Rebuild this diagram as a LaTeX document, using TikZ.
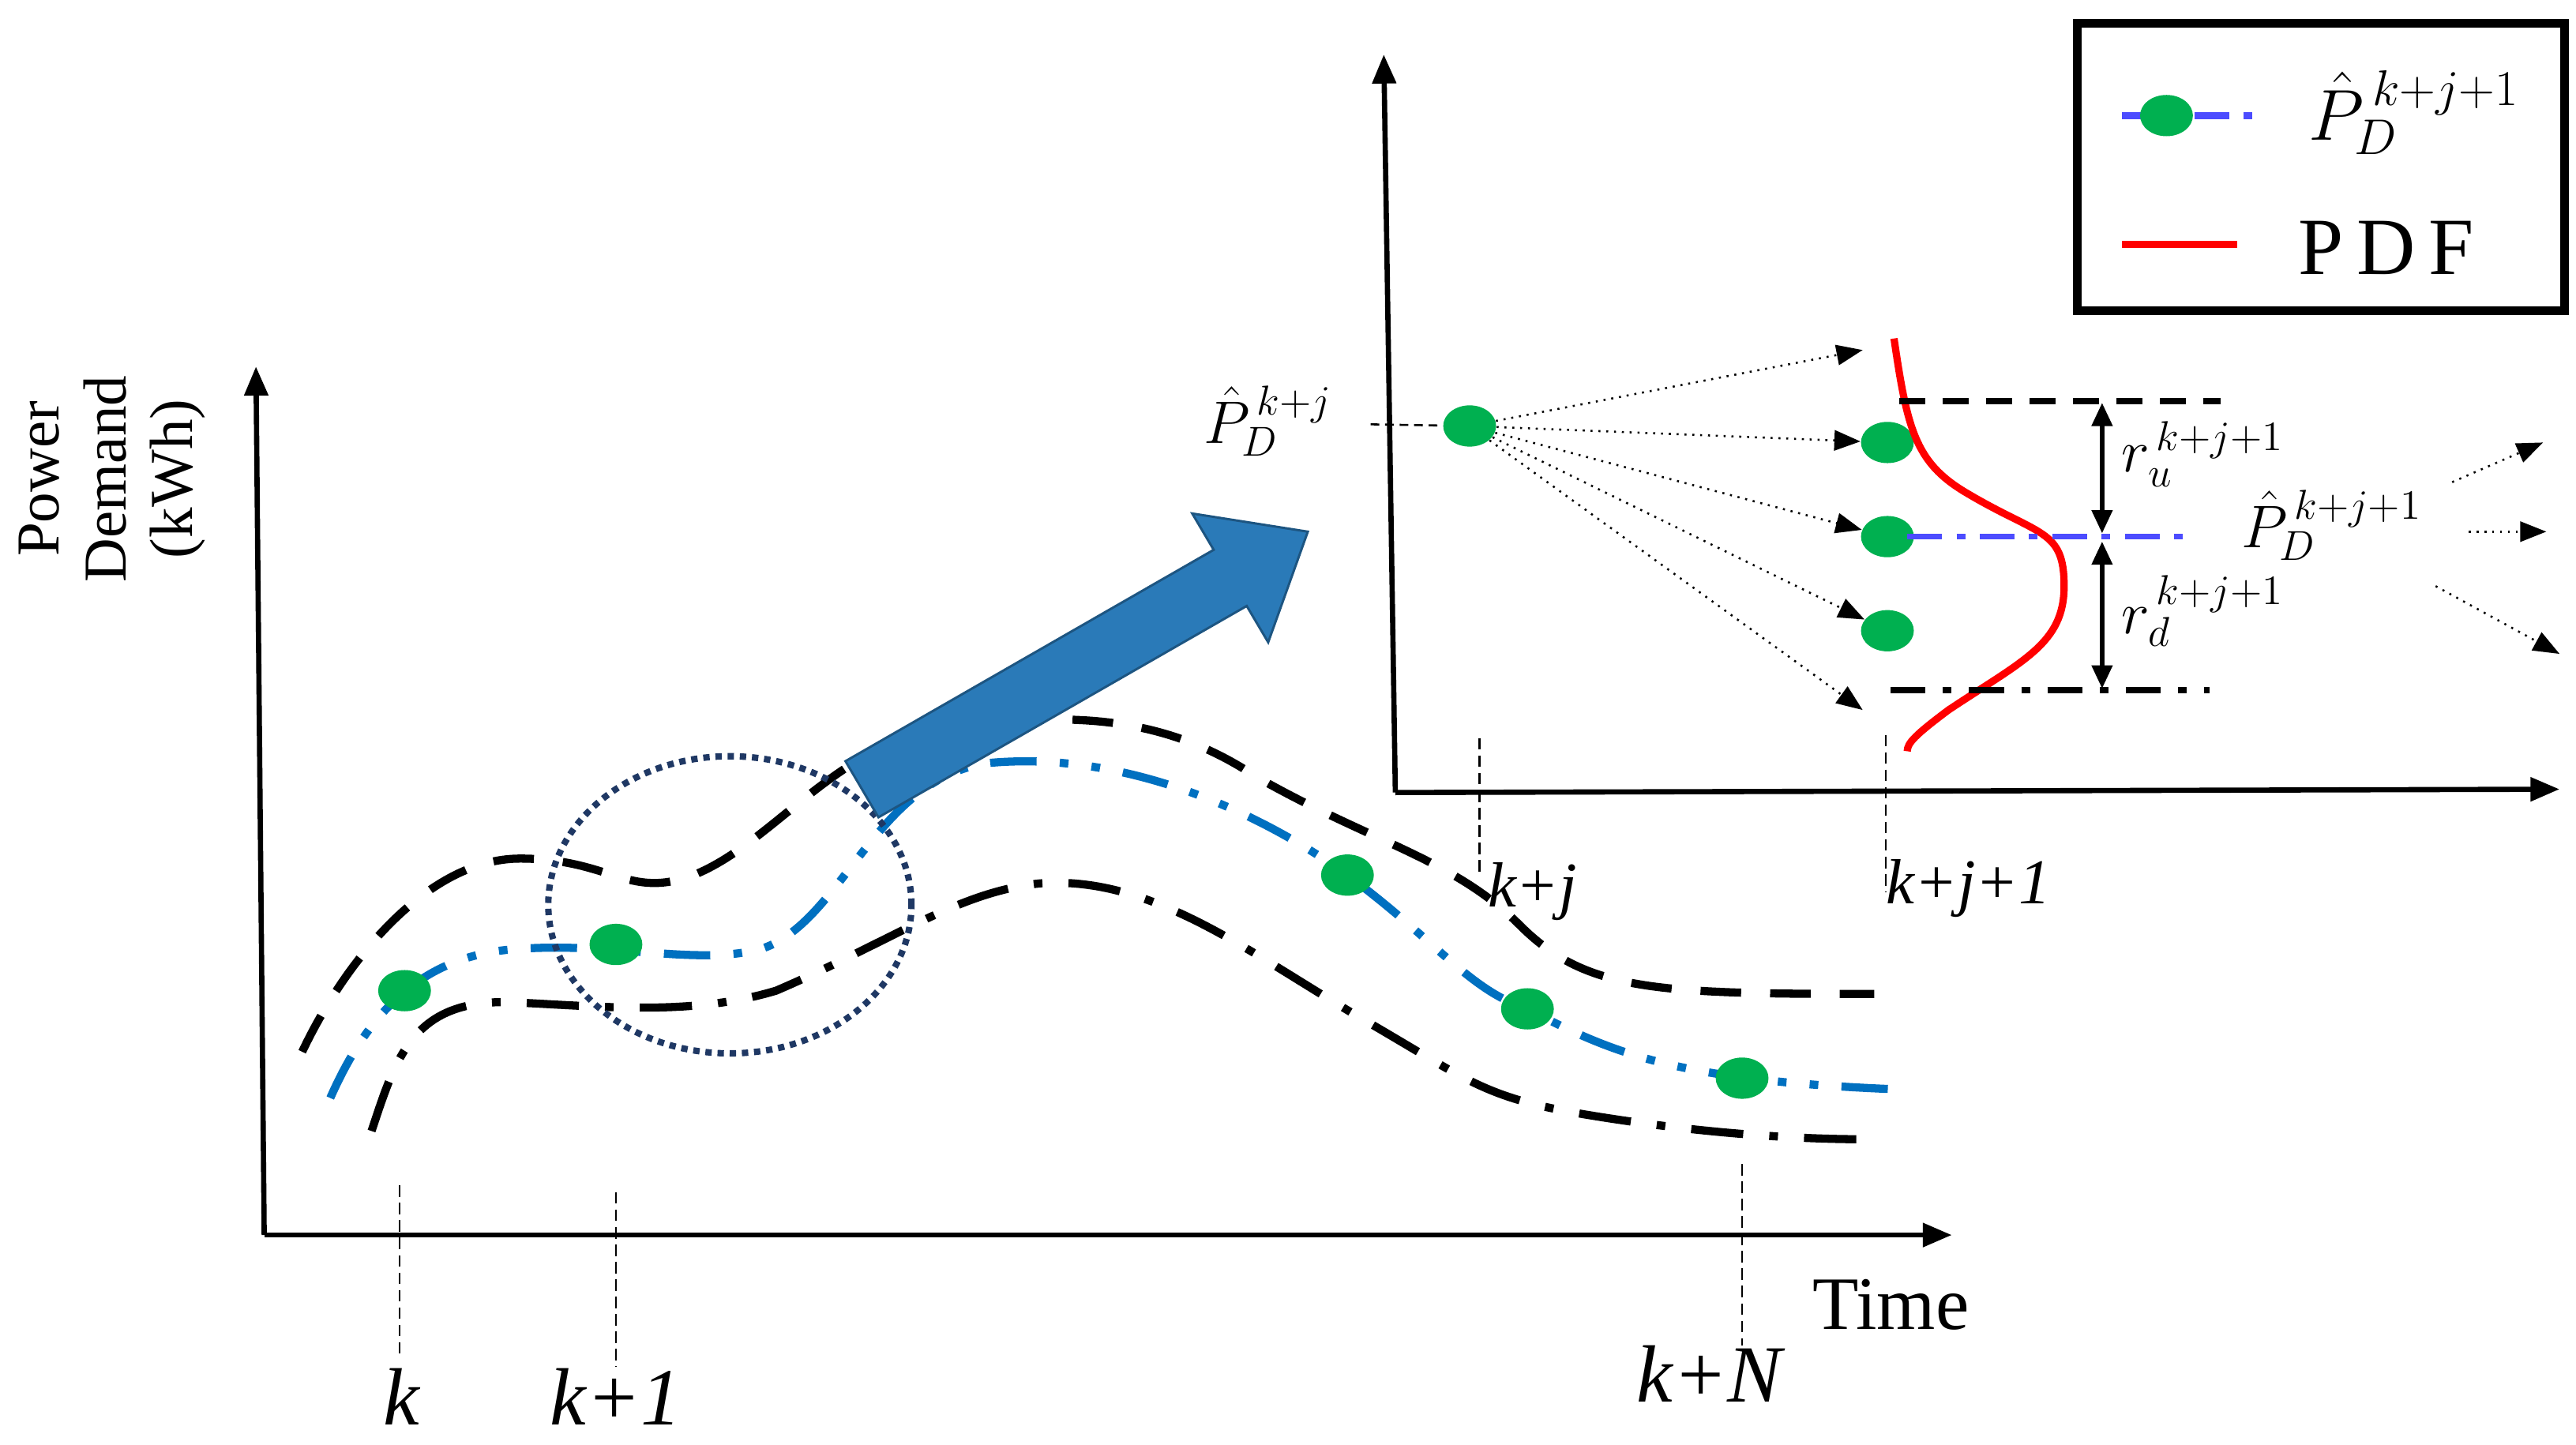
\documentclass[tikz,border=0pt]{standalone}
\usepackage{fontspec}
\setmainfont{Liberation Serif}
\usetikzlibrary{arrows.meta,shapes.geometric}
\definecolor{gdot}{HTML}{00B050}
\definecolor{bline}{HTML}{0070C0}
\definecolor{barrow}{HTML}{2A7AB8}
\definecolor{navy}{HTML}{1F3864}
\begin{document}
\begin{tikzpicture}[x=0.02cm,y=-0.02cm,
  axis/.style={line width=1.8pt,-{Triangle[length=10pt,width=8pt]}},
  ub/.style={line width=2.8pt,dash pattern=on 14pt off 10pt},
  mb/.style={line width=2.8pt,bline,dash pattern=on 16pt off 8pt on 3pt off 8pt on 3pt off 8pt},
  lb/.style={line width=2.8pt,dash pattern=on 18pt off 9pt on 3pt off 9pt},
  tick/.style={line width=0.6pt,dash pattern=on 4pt off 2pt},
  fan/.style={line width=0.7pt,dotted,-{Triangle[length=9pt,width=7pt]}},
  lab/.style={font=\fontsize{28}{30}\selectfont\itshape},
  slab/.style={font=\fontsize{22}{24}\selectfont\itshape}]
\useasboundingbox (0,0) rectangle (1560,875);
\tikzset{g/.style={ellipse,fill=gdot,minimum width=0.64cm,minimum height=0.5cm,inner sep=0pt}}
% main axes
\coordinate (O) at (160,748);
\coordinate (Ytop) at (155,222);
\coordinate (Xend) at (1182,748);
\draw[axis] (O) -- (Ytop);
\draw[axis] (O) -- (Xend);
\node[rotate=90,align=center,font=\fontsize{21}{23}\selectfont] (yl) at (68,290) {Power\\Demand\\(kWh)};
\node[font=\fontsize{26}{28}\selectfont] (time) at (1145,790) {Time};
% curves
\draw[ub] (183,637) .. controls (210,580) and (260,520) .. (315,520) .. controls (370,520) and (380,545) .. (420,530) .. controls (470,510) and (510,445) .. (580,440) .. controls (640,433) and (700,430) .. (760,470) .. controls (830,510) and (880,520) .. (920,560) .. controls (960,600) and (1000,602) .. (1135,602);
\draw[mb] (200,665) .. controls (220,620) and (250,580) .. (310,575) .. controls (370,570) and (420,585) .. (460,575) .. controls (510,560) and (530,470) .. (600,462) .. controls (680,455) and (760,490) .. (816,530) .. controls (870,570) and (890,600) .. (925,611) .. controls (980,640) and (1020,655) .. (1155,660);
\draw[lb] (225,685) .. controls (240,640) and (250,605) .. (310,607) .. controls (370,610) and (420,615) .. (470,600) .. controls (540,570) and (580,540) .. (630,535) .. controls (700,530) and (760,580) .. (830,620) .. controls (890,655) and (900,665) .. (960,675) .. controls (1020,685) and (1080,690) .. (1130,690);
% dots
\node[g] (d1) at (245,600) {};
\node[g] (d2) at (373,572) {};
\node[g] (d3) at (816,530) {};
\node[g] (d4) at (925,611) {};
\node[g] (d5) at (1055,653) {};
% dotted circle
\node[draw=navy,line width=2.2pt,dotted,ellipse,minimum width=4.4cm,minimum height=3.6cm] (circ) at (442,548) {};
% ticks and labels
\coordinate (t1a) at (242,718); \coordinate (t1b) at (242,820);
\coordinate (t2a) at (373,722); \coordinate (t2b) at (373,828);
\coordinate (t3a) at (1055,705); \coordinate (t3b) at (1055,815);
\draw[tick] (t1a) -- (t1b); \draw[tick] (t2a) -- (t2b); \draw[tick] (t3a) -- (t3b);
\node[lab] (k) at (243,846) {k};
\node[lab] (k1) at (373,846) {k+1};
\node[lab] (kN) at (1035,832) {k+N};
% big arrow
\fill[barrow,draw=barrow!70!black,line width=0.8pt] (512,461) -- (735,333) -- (722,311) -- (792,322) -- (768,389) -- (755,367) -- (532,495) -- cycle;
% inset axes
\coordinate (O2) at (845,480);
\draw[axis] (O2) -- (838,33);
\draw[axis] (O2) -- (1550,478);
% legend
\draw[line width=3pt] (1258,14) rectangle (1553,188);
\coordinate (la) at (1285,70); \coordinate (lb2) at (1368,70);
\draw[blue!70,line width=2.5pt,dash pattern=on 12pt off 5pt on 3pt off 5pt] (la) -- (lb2);
\node[g] (ld) at (1312,70) {};
\node[font=\fontsize{26}{28}\selectfont] (lt) at (1462,68) {$\hat{P}_D^{\,k+j+1}$};
\coordinate (ra) at (1285,148); \coordinate (rb) at (1355,148);
\draw[red,line width=2.2pt] (ra) -- (rb);
\node[font=\fontsize{28}{30}\selectfont] (pdf) at (1445,150) {P\,D\,F};
% inset content
\node[font=\fontsize{22}{24}\selectfont] (pk) at (768,255) {$\hat{P}_D^{\,k+j}$};
\node[g] (c0) at (890,258) {};
\coordinate (c0l) at (830,257);
\draw[line width=0.7pt,dash pattern=on 3pt off 2pt] (c0l) -- (c0);
\coordinate (e1) at (1128,212);
\coordinate (e5) at (1128,430);
\node[g] (c1) at (1143,268) {};
\node[g] (c2) at (1143,325) {};
\node[g] (c3) at (1143,382) {};
\draw[fan] (c0) -- (e1);
\draw[fan] (c0) -- (c1);
\draw[fan] (c0) -- (c2);
\draw[fan] (c0) -- (c3);
\draw[fan] (c0) -- (e5);
\draw[red,line width=2.5pt] (1147,205) .. controls (1155,260) and (1160,280) .. (1190,298) .. controls (1235,325) and (1250,320) .. (1250,355) .. controls (1250,390) and (1225,400) .. (1180,430) .. controls (1160,445) and (1155,450) .. (1155,455);
\coordinate (ua) at (1150,243); \coordinate (ub2) at (1345,243);
\draw[line width=2pt,dash pattern=on 9pt off 6pt] (ua) -- (ub2);
\coordinate (da) at (1145,418); \coordinate (db) at (1338,418);
\draw[line width=2pt,dash pattern=on 12pt off 6pt on 3pt off 6pt] (da) -- (db);
\coordinate (ma) at (1155,325); \coordinate (mb2) at (1330,325);
\draw[blue!70,line width=2pt,dash pattern=on 12pt off 5pt on 3pt off 5pt] (ma) -- (mb2);
\coordinate (u1) at (1273,244); \coordinate (u2) at (1273,323);
\coordinate (u3) at (1273,328); \coordinate (u4) at (1273,417);
\draw[line width=1.5pt,{Triangle[length=8pt,width=7pt]}-{Triangle[length=8pt,width=7pt]}] (u1) -- (u2);
\draw[line width=1.5pt,{Triangle[length=8pt,width=7pt]}-{Triangle[length=8pt,width=7pt]}] (u3) -- (u4);
\node[font=\fontsize{22}{24}\selectfont] (ru) at (1334,275) {$r_u^{\,k+j+1}$};
\node[font=\fontsize{22}{24}\selectfont] (rd) at (1334,370) {$r_d^{\,k+j+1}$};
\node[font=\fontsize{22}{24}\selectfont] (pk1) at (1412,318) {$\hat{P}_D^{\,k+j+1}$};
\coordinate (o1a) at (1485,292); \coordinate (o1b) at (1540,268);
\coordinate (o2a) at (1495,322); \coordinate (o2b) at (1542,322);
\coordinate (o3a) at (1475,355); \coordinate (o3b) at (1550,396);
\draw[fan] (o1a) -- (o1b); \draw[fan] (o2a) -- (o2b); \draw[fan] (o3a) -- (o3b);
\coordinate (v1a) at (896,447); \coordinate (v1b) at (896,530);
\coordinate (v2a) at (1142,445); \coordinate (v2b) at (1142,540);
\draw[tick] (v1a) -- (v1b); \draw[tick] (v2a) -- (v2b);
\node[slab] (kj) at (928,540) {k+j};
\node[slab] (kj1) at (1192,538) {k+j+1};
\end{tikzpicture}
\end{document}
